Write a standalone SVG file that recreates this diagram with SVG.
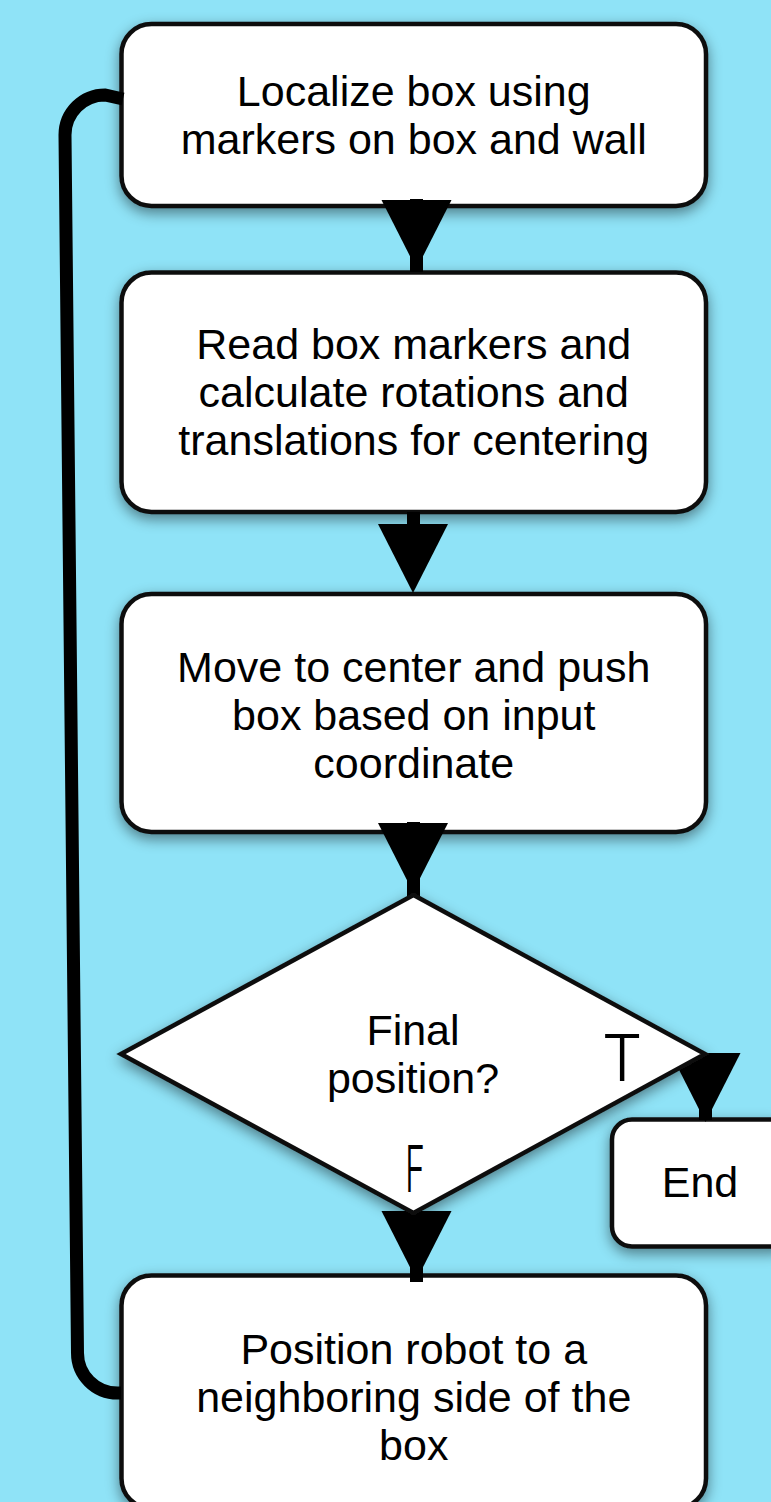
<svg xmlns="http://www.w3.org/2000/svg" xmlns:xlink="http://www.w3.org/1999/xlink" width="771" height="1502" viewBox="0 0 771 1502">
  <style>
    .node { fill: #ffffff; stroke: #111111; stroke-width: 4.5; filter: url(#shadow); }
    .label { font-family: "Liberation Sans", Arial, sans-serif; font-size: 43px; fill: #000000; text-anchor: middle; }
    .tf { font-family: Inter, "Liberation Sans", sans-serif; font-weight: 300; font-size: 64px; fill: #000000; }
    .stem { stroke: #000000; stroke-width: 13; fill: none; }
    .loop { stroke: #000000; stroke-width: 13; fill: none; }
  </style>
  <defs>
    <filter id="shadow" x="-20%" y="-20%" width="140%" height="140%">
      <feDropShadow dx="0" dy="5" stdDeviation="7" flood-color="#000000" flood-opacity="0.45"/>
    </filter>
    <!-- downward arrowhead, base centred on the origin -->
    <path id="tri" d="M -35 0 L 35 0 L 0 69 Z" fill="#000000"/>
  </defs>

  <rect width="771" height="1502" fill="#8fe3f7"/>

  <g id="localize">
    <rect class="node" x="121.5" y="24" width="584.5" height="182" rx="30"/>
    <text class="label" x="413.75" y="106">Localize box using</text>
    <text class="label" x="413.75" y="154">markers on box and wall</text>
  </g>

  <g id="read-markers">
    <rect class="node" x="121.5" y="272.5" width="584.5" height="239.5" rx="30"/>
    <text class="label" x="413.75" y="358.5">Read box markers and</text>
    <text class="label" x="413.75" y="406.5">calculate rotations and</text>
    <text class="label" x="413.75" y="454.5">translations for centering</text>
  </g>

  <g id="move-push">
    <rect class="node" x="121.5" y="594" width="584.5" height="238" rx="30"/>
    <text class="label" x="413.75" y="681.5">Move to center and push</text>
    <text class="label" x="413.75" y="729.5">box based on input</text>
    <text class="label" x="413.75" y="777.5">coordinate</text>
  </g>

  <g id="end">
    <rect class="node" x="612" y="1119.5" width="180" height="127" rx="20"/>
    <text class="label" x="700" y="1197">End</text>
  </g>

  <g id="reposition">
    <rect class="node" x="121.5" y="1275.5" width="584.5" height="233" rx="30"/>
    <text class="label" x="413.75" y="1364">Position robot to a</text>
    <text class="label" x="413.75" y="1412">neighboring side of the</text>
    <text class="label" x="413.75" y="1460">box</text>
  </g>

  <g id="connectors">
    <!-- localize -> read markers -->
    <line class="stem" x1="416.5" y1="199" x2="416.5" y2="272"/>
    <use xlink:href="#tri" href="#tri" x="416.5" y="200"/>
    <!-- read markers -> move/push -->
    <line class="stem" x1="413.5" y1="512" x2="413.5" y2="530"/>
    <use xlink:href="#tri" href="#tri" x="413" y="524"/>
    <!-- move/push -> decision -->
    <line class="stem" x1="413.5" y1="822" x2="413.5" y2="896"/>
    <use xlink:href="#tri" href="#tri" x="413" y="823"/>
    <!-- decision true -> end -->
    <line class="stem" x1="705.5" y1="1053" x2="705.5" y2="1120"/>
    <use xlink:href="#tri" href="#tri" x="705.5" y="1053"/>
    <!-- decision false -> reposition -->
    <line class="stem" x1="416.5" y1="1211" x2="416.5" y2="1282"/>
    <use xlink:href="#tri" href="#tri" x="416.5" y="1211"/>
    <!-- reposition loops back to localize -->
    <path class="loop" d="M 121 1393 L 117.5 1393 A 40 40 0 0 1 77.5 1353 L 65 135 A 40 40 0 0 1 105 95 L 123 99"/>
  </g>

  <g id="decision">
    <polygon class="node" points="413.5,895 705,1054 413.5,1213 121,1054"/>
    <text class="label" x="413" y="1045">Final</text>
    <text class="label" x="413" y="1093">position?</text>
    <text class="tf" x="622" y="1081" text-anchor="middle">T</text>
    <text class="tf" x="405" y="1192" textLength="20" lengthAdjust="spacingAndGlyphs">F</text>
  </g>
</svg>
